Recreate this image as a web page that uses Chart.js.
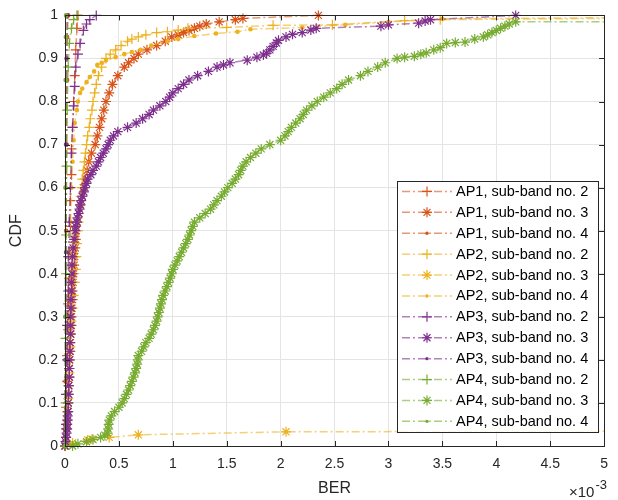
<!DOCTYPE html>
<html lang="en">
<head>
<meta charset="utf-8" />
<title>CDF of BER per AP and sub-band</title>
<script src="https://cdn.jsdelivr.net/npm/chart.js"></script>
<style>
  html, body { margin: 0; padding: 0; background: #fff; }
</style>
</head>
<body>
<canvas id="berChart" width="618" height="500"></canvas>
<script>
// BER is in units of 1e-3 (see the x10^-3 note under the axis)
const xTickValues = [0, 0.5, 1, 1.5, 2, 2.5, 3, 3.5, 4, 4.5, 5];
const xTickLabels = ['0', '0.5', '1', '1.5', '2', '2.5', '3', '3.5', '4', '4.5', '5'];
const yTickValues = [0, 0.1, 0.2, 0.3, 0.4, 0.5, 0.6, 0.7, 0.8, 0.9, 1];
const yTickLabels = ['0', '0.1', '0.2', '0.3', '0.4', '0.5', '0.6', '0.7', '0.8', '0.9', '1'];

const seriesNames = [
  'AP1, sub-band no. 2', 'AP1, sub-band no. 3', 'AP1, sub-band no. 4',
  'AP2, sub-band no. 2', 'AP2, sub-band no. 3', 'AP2, sub-band no. 4',
  'AP3, sub-band no. 2', 'AP3, sub-band no. 3', 'AP3, sub-band no. 4',
  'AP4, sub-band no. 2', 'AP4, sub-band no. 3', 'AP4, sub-band no. 4'
];

// AP1
const ap1Sb2Ber = [0, 0.01, 0.01, 0.02, 0.02, 0.03, 0.03, 0.04, 0.04, 0.05, 0.05, 0.06, 0.06, 0.07, 0.08, 0.09, 0.1, 0.11, 0.12];
const ap1Sb2Cdf = [0, 0.04, 0.09, 0.15, 0.21, 0.27, 0.33, 0.39, 0.45, 0.51, 0.57, 0.63, 0.69, 0.74, 0.8, 0.86, 0.92, 0.97, 1];
const ap1Sb3Ber = [0, 0.01, 0.015, 0.02, 0.025, 0.03, 0.03, 0.035, 0.04, 0.04, 0.045, 0.05, 0.05, 0.055, 0.06, 0.06, 0.065, 0.07, 0.07, 0.075,
  0.08, 0.085, 0.09, 0.095, 0.1, 0.105, 0.115, 0.13, 0.145, 0.16, 0.17, 0.19, 0.205, 0.22, 0.245, 0.28, 0.3, 0.32, 0.34, 0.36,
  0.38, 0.41, 0.44, 0.49, 0.55, 0.59, 0.64, 0.68, 0.76, 0.85, 0.93, 0.99, 1.05, 1.1, 1.15, 1.2, 1.25, 1.31, 1.43, 1.58,
  1.65, 2.35];
const ap1Sb3Cdf = [0, 0.02, 0.04, 0.06, 0.08, 0.1, 0.12, 0.14, 0.16, 0.18, 0.2, 0.22, 0.24, 0.26, 0.28, 0.3, 0.32, 0.34, 0.36, 0.38,
  0.4, 0.42, 0.44, 0.46, 0.48, 0.5, 0.52, 0.54, 0.56, 0.58, 0.6, 0.62, 0.64, 0.66, 0.68, 0.7, 0.72, 0.74, 0.76, 0.78,
  0.8, 0.82, 0.84, 0.86, 0.88, 0.89, 0.9, 0.91, 0.92, 0.93, 0.94, 0.95, 0.955, 0.96, 0.965, 0.97, 0.975, 0.98, 0.985, 0.99,
  0.993, 1];
const ap1Sb4Ber = [0, 0.005, 0.01, 0.01, 0.015, 0.02, 0.02, 0.03];
const ap1Sb4Cdf = [0, 0.15, 0.3, 0.5, 0.7, 0.85, 0.95, 1];

// AP2
const ap2Sb2Ber = [0, 0.01, 0.015, 0.02, 0.03, 0.035, 0.04, 0.045, 0.05, 0.055, 0.06, 0.07, 0.08, 0.09, 0.1, 0.105, 0.11, 0.12, 0.125, 0.13,
  0.14, 0.145, 0.155, 0.16, 0.17, 0.18, 0.19, 0.2, 0.21, 0.225, 0.235, 0.25, 0.26, 0.275, 0.29, 0.31, 0.34, 0.38, 0.42, 0.47,
  0.52, 0.58, 0.62, 0.68, 0.75, 0.85, 0.95, 1.05, 1.14, 1.5, 1.93, 2.48, 3.15, 3.48, 7];
const ap2Sb2Cdf = [0, 0.02, 0.05, 0.08, 0.11, 0.14, 0.17, 0.2, 0.23, 0.26, 0.29, 0.32, 0.35, 0.38, 0.41, 0.44, 0.47, 0.5, 0.52, 0.54,
  0.56, 0.58, 0.6, 0.62, 0.64, 0.66, 0.68, 0.7, 0.72, 0.74, 0.76, 0.78, 0.8, 0.82, 0.84, 0.86, 0.88, 0.9, 0.91, 0.92,
  0.93, 0.94, 0.945, 0.95, 0.955, 0.96, 0.962, 0.966, 0.97, 0.972, 0.977, 0.978, 0.988, 0.99, 0.997];
const ap2Sb3Ber = [0, 0.02, 0.07, 0.21, 0.25, 0.41, 0.68, 2.05, 7];
const ap2Sb3Cdf = [0, 0.004, 0.007, 0.014, 0.016, 0.02, 0.026, 0.033, 0.035];
const ap2Sb4Ber = [0, 0.01, 0.02, 0.03, 0.03, 0.04, 0.05, 0.05, 0.06, 0.07, 0.08, 0.09, 0.11, 0.12, 0.14, 0.16, 0.2, 0.23, 0.27, 0.3,
  0.34, 0.38, 0.47, 0.55, 0.62, 0.7, 0.8, 0.95, 1.05, 1.2, 1.4, 1.6, 1.72, 2.2, 2.6, 3.0, 3.5, 7];
const ap2Sb4Cdf = [0, 0.05, 0.12, 0.2, 0.28, 0.36, 0.44, 0.52, 0.6, 0.66, 0.71, 0.75, 0.78, 0.8, 0.82, 0.83, 0.845, 0.857, 0.87, 0.885,
  0.89, 0.896, 0.903, 0.91, 0.915, 0.92, 0.93, 0.94, 0.945, 0.952, 0.958, 0.962, 0.968, 0.972, 0.978, 0.985, 0.992, 0.998];

// AP3
const ap3Sb2Ber = [0, 0.01, 0.01, 0.02, 0.02, 0.03, 0.03, 0.04, 0.05, 0.06, 0.07, 0.08, 0.09, 0.1, 0.12, 0.14, 0.17, 0.2, 0.23, 0.29];
const ap3Sb2Cdf = [0, 0.05, 0.12, 0.2, 0.28, 0.36, 0.44, 0.52, 0.6, 0.68, 0.74, 0.79, 0.835, 0.88, 0.91, 0.935, 0.965, 0.98, 0.99, 1];
const ap3Sb3Ber = [0, 0.005, 0.01, 0.015, 0.02, 0.02, 0.025, 0.025, 0.03, 0.03, 0.035, 0.035, 0.04, 0.04, 0.04, 0.045, 0.045, 0.05, 0.05, 0.05,
  0.055, 0.055, 0.06, 0.06, 0.065, 0.065, 0.07, 0.075, 0.085, 0.095, 0.1, 0.11, 0.115, 0.125, 0.135, 0.14, 0.15, 0.16, 0.175, 0.185,
  0.2, 0.21, 0.24, 0.26, 0.29, 0.31, 0.33, 0.355, 0.38, 0.4, 0.42, 0.45, 0.49, 0.58, 0.66, 0.72, 0.78, 0.82, 0.88, 0.935,
  0.97, 1.0, 1.05, 1.1, 1.15, 1.23, 1.33, 1.41, 1.47, 1.53, 1.69, 1.78, 1.84, 1.87, 1.9, 1.93, 1.96, 1.98, 2.05, 2.11,
  2.2, 2.28, 2.33, 2.93, 3.0, 3.28, 3.34, 3.39, 4.18];
const ap3Sb3Cdf = [0, 0.01, 0.02, 0.03, 0.04, 0.05, 0.06, 0.07, 0.08, 0.1, 0.12, 0.14, 0.16, 0.18, 0.2, 0.22, 0.24, 0.26, 0.28, 0.3,
  0.32, 0.34, 0.36, 0.38, 0.4, 0.42, 0.44, 0.46, 0.48, 0.5, 0.51, 0.52, 0.53, 0.54, 0.55, 0.56, 0.57, 0.58, 0.59, 0.6,
  0.61, 0.62, 0.63, 0.64, 0.65, 0.66, 0.67, 0.68, 0.69, 0.7, 0.71, 0.72, 0.73, 0.74, 0.75, 0.76, 0.77, 0.78, 0.79, 0.8,
  0.81, 0.82, 0.83, 0.84, 0.85, 0.86, 0.87, 0.88, 0.885, 0.89, 0.896, 0.903, 0.908, 0.912, 0.92, 0.928, 0.936, 0.942, 0.95, 0.956,
  0.96, 0.966, 0.97, 0.975, 0.978, 0.982, 0.987, 0.99, 1];
const ap3Sb4Ber = [0, 0.005, 0.01, 0.01, 0.015, 0.02];
const ap3Sb4Cdf = [0, 0.2, 0.45, 0.7, 0.9, 1];

// AP4
const ap4Sb2Ber = [0, 0.005, 0.005, 0.01, 0.01, 0.015, 0.02, 0.03, 0.04, 0.06, 0.08, 0.11];
const ap4Sb2Cdf = [0, 0.1, 0.25, 0.4, 0.49, 0.65, 0.78, 0.88, 0.935, 0.97, 0.99, 1];
const ap4Sb3Ber = [0.07, 0.12, 0.2, 0.26, 0.33, 0.37, 0.395, 0.4, 0.405, 0.41, 0.43, 0.46, 0.5, 0.53, 0.55, 0.57, 0.59, 0.605, 0.62, 0.635,
  0.65, 0.66, 0.67, 0.675, 0.68, 0.71, 0.73, 0.75, 0.78, 0.8, 0.82, 0.835, 0.85, 0.86, 0.87, 0.88, 0.89, 0.9, 0.91, 0.93,
  0.945, 0.96, 0.975, 0.99, 1.0, 1.02, 1.04, 1.06, 1.08, 1.1, 1.12, 1.14, 1.155, 1.17, 1.185, 1.2, 1.25, 1.3, 1.35, 1.38,
  1.41, 1.45, 1.48, 1.51, 1.55, 1.58, 1.61, 1.63, 1.65, 1.68, 1.72, 1.77, 1.82, 1.9, 2.0, 2.04, 2.07, 2.1, 2.14, 2.18,
  2.21, 2.24, 2.29, 2.34, 2.4, 2.46, 2.52, 2.57, 2.63, 2.74, 2.81, 2.9, 2.97, 3.08, 3.15, 3.24, 3.3, 3.35, 3.42, 3.48,
  3.54, 3.62, 3.71, 3.8, 3.88, 3.92, 3.96, 4.0, 4.04, 4.08, 4.12, 4.18, 7];
const ap4Sb3Cdf = [0, 0.005, 0.01, 0.015, 0.02, 0.025, 0.03, 0.04, 0.05, 0.06, 0.07, 0.08, 0.09, 0.1, 0.11, 0.12, 0.13, 0.14, 0.15, 0.16,
  0.17, 0.18, 0.19, 0.2, 0.21, 0.22, 0.23, 0.24, 0.25, 0.26, 0.27, 0.28, 0.29, 0.3, 0.31, 0.32, 0.33, 0.34, 0.35, 0.36,
  0.37, 0.38, 0.39, 0.4, 0.41, 0.42, 0.43, 0.44, 0.45, 0.46, 0.47, 0.48, 0.49, 0.5, 0.51, 0.52, 0.53, 0.54, 0.55, 0.56,
  0.57, 0.58, 0.59, 0.6, 0.61, 0.62, 0.63, 0.64, 0.65, 0.66, 0.67, 0.68, 0.69, 0.7, 0.71, 0.72, 0.73, 0.74, 0.75, 0.76,
  0.77, 0.78, 0.79, 0.8, 0.81, 0.82, 0.83, 0.84, 0.85, 0.86, 0.87, 0.88, 0.89, 0.9, 0.903, 0.905, 0.91, 0.913, 0.92, 0.925,
  0.935, 0.937, 0.938, 0.945, 0.95, 0.955, 0.96, 0.965, 0.97, 0.975, 0.98, 0.985, 0.985];
const ap4Sb4Ber = [0, 0.002, 0.004, 0.006, 0.008, 0.01];
const ap4Sb4Cdf = [0, 0.3, 0.6, 0.85, 0.95, 1];

const berSets = [ap1Sb2Ber, ap1Sb3Ber, ap1Sb4Ber, ap2Sb2Ber, ap2Sb3Ber, ap2Sb4Ber,
                 ap3Sb2Ber, ap3Sb3Ber, ap3Sb4Ber, ap4Sb2Ber, ap4Sb3Ber, ap4Sb4Ber];
const cdfSets = [ap1Sb2Cdf, ap1Sb3Cdf, ap1Sb4Cdf, ap2Sb2Cdf, ap2Sb3Cdf, ap2Sb4Cdf,
                 ap3Sb2Cdf, ap3Sb3Cdf, ap3Sb4Cdf, ap4Sb2Cdf, ap4Sb3Cdf, ap4Sb4Cdf];

// one colour per AP, one marker per sub-band (+, *, .)
const apColors = [[217, 83, 25], [237, 177, 32], [126, 47, 142], [119, 172, 48]];
const bandMarkers = ['cross', 'star', 'circle'];
const dashDot = [8, 3, 2, 3];
const axisColor = '#262626';
const fontFamily = '"Liberation Sans", Arial, Helvetica, sans-serif';

const rgba = (c, a) => 'rgba(' + c[0] + ',' + c[1] + ',' + c[2] + ',' + a + ')';

const datasets = berSets.map((ber, i) => {
  const c = apColors[Math.floor(i / 3)];
  const marker = bandMarkers[i % 3];
  return {
    label: seriesNames[i],
    data: ber.map((b, k) => ({ x: b, y: cdfSets[i][k] })),
    showLine: true,
    borderColor: rgba(c, 0.6),
    borderWidth: 1.5,
    borderDash: dashDot,
    pointStyle: marker,
    pointRadius: marker === 'circle' ? 1.7 : 5,
    pointBorderWidth: 1.2,
    pointBorderColor: rgba(c, 1),
    pointBackgroundColor: rgba(c, 1),
    order: 12 - i,
    clip: { left: 7, top: 7, right: 0, bottom: 7 }
  };
});

function drawMarker(ctx, style, x, y, color) {
  ctx.strokeStyle = color;
  ctx.fillStyle = color;
  ctx.lineWidth = 1.2;
  ctx.beginPath();
  if (style === 'circle') {
    ctx.arc(x, y, 1.7, 0, Math.PI * 2);
    ctx.fill();
    return;
  }
  const r = 5;
  ctx.moveTo(x - r, y); ctx.lineTo(x + r, y);
  ctx.moveTo(x, y - r); ctx.lineTo(x, y + r);
  if (style === 'star') {
    const d = r * 0.7;
    ctx.moveTo(x - d, y - d); ctx.lineTo(x + d, y + d);
    ctx.moveTo(x - d, y + d); ctx.lineTo(x + d, y - d);
  }
  ctx.stroke();
}

// box round the axes with inward tick marks, like the original figure
const framePlugin = {
  id: 'frame',
  afterDatasetsDraw(chart) {
    const { ctx, chartArea: a, scales } = chart;
    ctx.save();
    ctx.strokeStyle = axisColor;
    ctx.lineWidth = 1;
    ctx.beginPath();
    xTickValues.forEach(v => {
      const px = Math.round(scales.x.getPixelForValue(v)) + 0.5;
      ctx.moveTo(px, a.bottom); ctx.lineTo(px, a.bottom - 5);
      ctx.moveTo(px, a.top); ctx.lineTo(px, a.top + 5);
    });
    yTickValues.forEach(v => {
      const py = Math.round(scales.y.getPixelForValue(v)) + 0.5;
      ctx.moveTo(a.left, py); ctx.lineTo(a.left + 5, py);
      ctx.moveTo(a.right, py); ctx.lineTo(a.right - 5, py);
    });
    ctx.stroke();
    ctx.strokeRect(Math.round(a.left) + 0.5, Math.round(a.top) + 0.5,
                   Math.round(a.right - a.left), Math.round(a.bottom - a.top));
    ctx.restore();
  }
};

// legend box with dash-dot sample line and marker, drawn over the data
const legendPlugin = {
  id: 'boxLegend',
  afterDraw(chart) {
    const ctx = chart.ctx;
    const left = 397, top = 181, w = 201, rowH = 20.9;
    const sets = chart.data.datasets;
    ctx.save();
    ctx.fillStyle = '#fff';
    ctx.fillRect(left, top, w, rowH * sets.length);
    ctx.strokeStyle = axisColor;
    ctx.lineWidth = 1;
    ctx.strokeRect(left + 0.5, top + 0.5, w, Math.round(rowH * sets.length));
    ctx.font = '14.5px ' + fontFamily;
    ctx.textBaseline = 'middle';
    sets.forEach((ds, i) => {
      const y = top + rowH * (i + 0.5);
      ctx.strokeStyle = ds.borderColor;
      ctx.lineWidth = 1.5;
      ctx.setLineDash(ds.borderDash);
      ctx.beginPath();
      ctx.moveTo(left + 5, y);
      ctx.lineTo(left + 55, y);
      ctx.stroke();
      ctx.setLineDash([]);
      drawMarker(ctx, ds.pointStyle, left + 30, y, ds.pointBorderColor);
      ctx.fillStyle = '#000';
      ctx.fillText(ds.label, left + 59, y + 0.5);
    });

    // exponent note under the x axis
    ctx.fillStyle = axisColor;
    ctx.textBaseline = 'alphabetic';
    ctx.font = '15px ' + fontFamily;
    const base = '\u00d710';
    ctx.fillText(base, 569, 497);
    const bw = ctx.measureText(base).width;
    ctx.font = '13px ' + fontFamily;
    ctx.fillText('-3', 569 + bw + 1, 489);
    ctx.restore();
  }
};

const ctx = document.getElementById('berChart').getContext('2d');
const chart = new Chart(ctx, {
  type: 'scatter',
  data: { datasets: datasets },
  options: {
    responsive: false,
    animation: false,
    devicePixelRatio: 1,
    layout: { padding: { top: 15, right: 5, left: 0, bottom: 0 } },
    plugins: {
      legend: { display: false },
      tooltip: { enabled: false }
    },
    scales: {
      x: {
        type: 'linear',
        min: 0,
        max: 5,
        afterBuildTicks: s => { s.ticks = xTickValues.map(v => ({ value: v })); },
        afterFit: s => { s.height = 54; },
        ticks: {
          callback: v => xTickLabels[xTickValues.indexOf(v)],
          color: axisColor,
          font: { family: fontFamily, size: 14 },
          padding: 10,
          maxRotation: 0,
          autoSkip: false
        },
        grid: { color: '#e4e4e4', drawTicks: false },
        border: { display: true, color: axisColor },
        title: {
          display: true,
          text: 'BER',
          color: axisColor,
          font: { family: fontFamily, size: 16 },
          padding: { top: 0, bottom: 2 }
        }
      },
      y: {
        type: 'linear',
        min: 0,
        max: 1,
        afterBuildTicks: s => { s.ticks = yTickValues.map(v => ({ value: v })); },
        afterFit: s => { s.width = 65; },
        ticks: {
          callback: v => yTickLabels[yTickValues.indexOf(v)],
          color: axisColor,
          font: { family: fontFamily, size: 14 },
          padding: 7,
          autoSkip: false
        },
        grid: { color: '#e4e4e4', drawTicks: false },
        border: { display: true, color: axisColor },
        title: {
          display: true,
          text: 'CDF',
          color: axisColor,
          font: { family: fontFamily, size: 16 },
          padding: { top: 7, bottom: 0 }
        }
      }
    }
  },
  plugins: [framePlugin, legendPlugin]
});
</script>
</body>
</html>
